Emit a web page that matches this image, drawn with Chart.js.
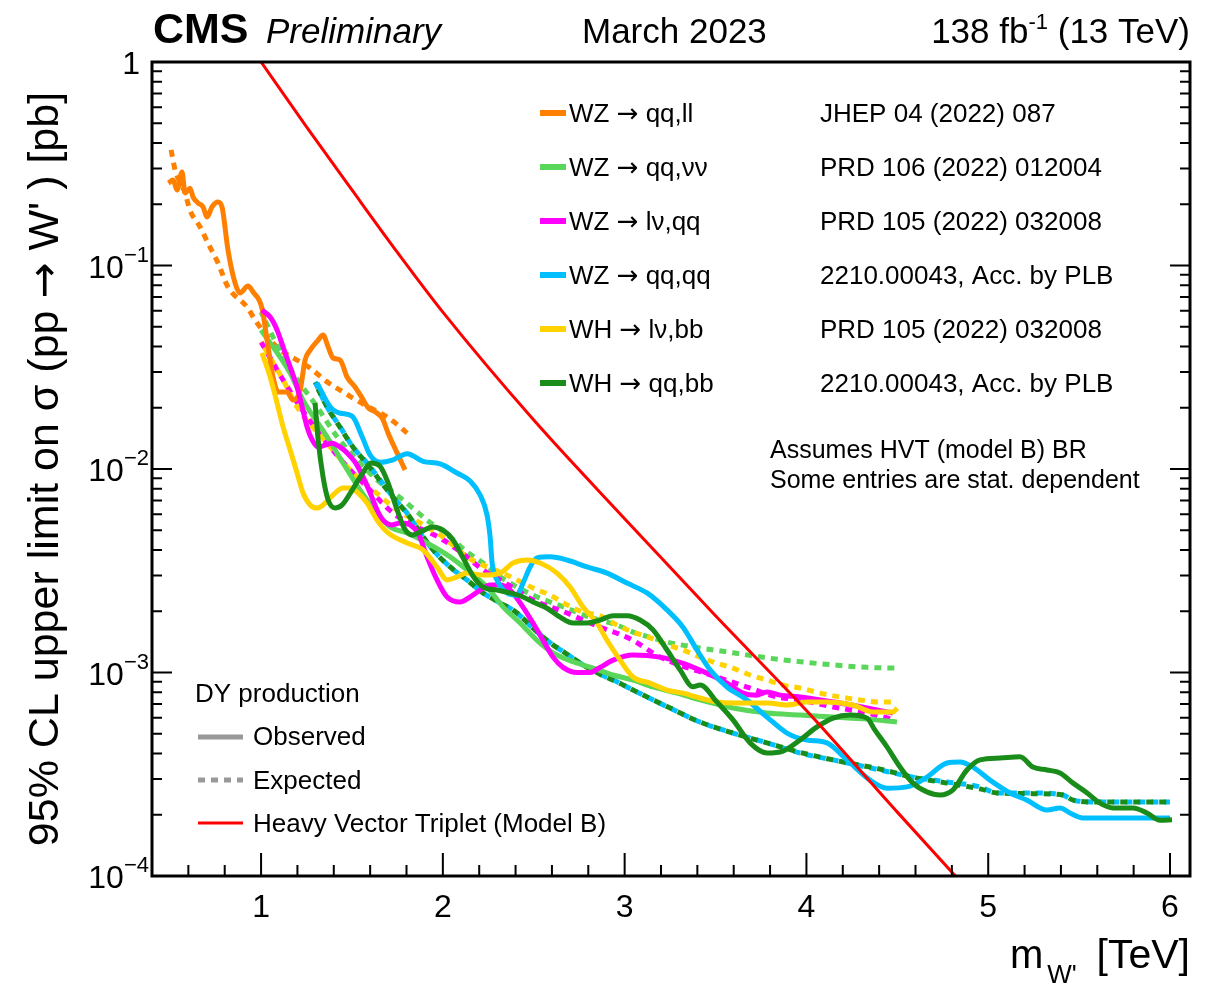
<!DOCTYPE html>
<html><head><meta charset="utf-8">
<script src="https://cdn.jsdelivr.net/npm/chart.js@4/dist/chart.umd.min.js"></script>
<style>html,body{margin:0;padding:0;background:#fff;}#wrap{width:1221px;height:983px;}</style>
</head><body><div id="wrap"><canvas id="c" width="1221" height="983"></canvas></div>
<script>
// ---------------- data (mass in TeV, limits in pb) ----------------
const hvtMass = [0.9,1.0,1.25,1.5,1.75,2.0,2.5,3.0,3.5,4.0,4.5,5.0];
const hvtXsec = [1.34,1.0,0.48,0.235,0.116,0.059,0.0174,0.0057,0.0019,0.00065,0.000206,0.0000665];

const qqllObsMass = [0.49,0.516,0.538,0.565,0.582,0.609,0.626,0.653,0.681,0.703,0.73,0.763,0.785,0.818,0.857,0.884,0.928,0.956,1.005,1.033,1.066,1.094,1.143,1.176,1.215,1.242,1.27,1.314,1.341,1.369,1.396,1.435,1.473,1.517,1.556,1.589,1.627,1.666,1.699,1.748,1.792];
const qqllObs = [0.254,0.263,0.235,0.288,0.227,0.240,0.217,0.203,0.194,0.173,0.194,0.205,0.194,0.119,0.082,0.0733,0.0793,0.0741,0.0618,0.043,0.0283,0.0239,0.0239,0.0218,0.0244,0.0343,0.0384,0.043,0.0455,0.0398,0.0351,0.0343,0.0283,0.0253,0.0223,0.02,0.0191,0.0178,0.015,0.012,0.0099];
const qqllExpMass = [0.505,0.527,0.582,0.609,0.664,0.719,0.763,0.818,0.923,0.967,1.05,1.121,1.198,1.27,1.363,1.435,1.506,1.6,1.693,1.765,1.803];
const qqllExp = [0.37,0.295,0.227,0.187,0.155,0.123,0.103,0.0784,0.0625,0.054,0.043,0.0376,0.0343,0.0313,0.0268,0.0244,0.0223,0.02,0.018,0.0161,0.015];

const qqnnObsMass = [1.0,1.16,1.231,1.363,1.451,1.545,1.638,1.71,1.803,1.913,2.04,2.133,2.243,2.331,2.425,2.518,2.606,2.716,2.826,2.936,3.046,3.156,3.288,3.415,3.596,3.783,3.965,4.146,4.333,4.498];
const qqnnObs = [0.0482,0.0296,0.0218,0.0144,0.0107,0.00788,0.00608,0.00519,0.00485,0.00433,0.0037,0.00319,0.00263,0.0021,0.00175,0.00144,0.00125,0.00113,0.00105,0.000972,0.000918,0.000849,0.000792,0.000733,0.000669,0.000632,0.000618,0.000604,0.00059,0.000571];
const qqnnExpMass = [1.0,1.066,1.176,1.308,1.418,1.528,1.638,1.781,1.913,2.04,2.133,2.221,2.315,2.408,2.496,2.59,2.683,2.771,2.865,2.958,3.046,3.14,3.233,3.415,3.596,3.783,3.965,4.146,4.333,4.498];
const qqnnExp = [0.0591,0.0445,0.0296,0.0202,0.0144,0.0111,0.00883,0.00704,0.00561,0.00463,0.00391,0.00345,0.00295,0.00263,0.0024,0.00222,0.00207,0.00192,0.00181,0.00171,0.00158,0.00149,0.00141,0.00132,0.00125,0.00118,0.00113,0.00109,0.00106,0.00105];

const lvqqObsMass = [1.005,1.05,1.088,1.121,1.16,1.198,1.226,1.253,1.281,1.314,1.352,1.391,1.435,1.473,1.517,1.561,1.6,1.638,1.671,1.721,1.765,1.82,1.864,1.913,1.968,2.023,2.095,2.15,2.205,2.26,2.315,2.37,2.425,2.496,2.551,2.606,2.661,2.738,2.81,2.865,2.936,3.046,3.195,3.321,3.453,3.563,3.651,3.728,3.783,3.855,3.965,4.075,4.185,4.333,4.476];
const lvqqObs = [0.0604,0.0558,0.0482,0.0398,0.0317,0.0253,0.0202,0.0161,0.0139,0.0128,0.0131,0.0134,0.0128,0.012,0.0108,0.00914,0.00762,0.00629,0.00561,0.00531,0.00543,0.00531,0.00485,0.0037,0.00285,0.00235,0.00222,0.00235,0.00254,0.00269,0.00269,0.00254,0.0022,0.00175,0.00144,0.00119,0.00106,0.001,0.001,0.00106,0.00115,0.00122,0.00119,0.00111,0.000993,0.000887,0.000792,0.000774,0.000802,0.000774,0.000758,0.000733,0.000708,0.000669,0.000632];
const lvqqExpMass = [1.0,1.121,1.215,1.363,1.49,1.583,1.726,1.858,1.985,2.133,2.221,2.315,2.408,2.496,2.59,2.683,2.771,2.865,2.958,3.046,3.195,3.508,3.69,3.838,3.965,4.146,4.333,4.487];
const lvqqExp = [0.0421,0.0274,0.0202,0.0134,0.00989,0.00816,0.00608,0.00519,0.00458,0.0037,0.00319,0.00285,0.00254,0.00227,0.0021,0.00196,0.00181,0.00167,0.00156,0.00144,0.00119,0.00095,0.000839,0.000758,0.000733,0.000677,0.000632,0.000585];

const qqqqObsMass = [1.308,1.38,1.435,1.501,1.556,1.6,1.655,1.726,1.803,1.891,1.985,2.078,2.15,2.205,2.243,2.26,2.271,2.298,2.353,2.408,2.441,2.48,2.518,2.59,2.683,2.793,2.903,3.013,3.123,3.233,3.321,3.398,3.47,3.563,3.673,3.783,3.893,4.003,4.113,4.223,4.35,4.443,4.553,4.663,4.773,4.845,4.916,5.01,5.12,5.213,5.323,5.395,5.45,5.521,5.78,6.0];
const qqqqObs = [0.0265,0.0202,0.0188,0.0182,0.0144,0.0117,0.0108,0.0111,0.0119,0.0109,0.0106,0.00956,0.00873,0.00745,0.00594,0.00463,0.00345,0.00285,0.00246,0.0024,0.00275,0.0033,0.00366,0.0037,0.00357,0.0033,0.00308,0.00275,0.00246,0.00203,0.00167,0.00129,0.00103,0.000849,0.000733,0.000604,0.000504,0.000466,0.000451,0.000372,0.000296,0.00027,0.000274,0.000306,0.000359,0.000363,0.000343,0.000296,0.000256,0.000236,0.000211,0.000216,0.000204,0.000193,0.000193,0.000193];
const qqqqExpMass = [1.297,1.363,1.435,1.506,1.583,1.655,1.726,1.803,1.875,1.946,2.04,2.133,2.221,2.315,2.408,2.496,2.59,2.683,2.771,2.865,2.958,3.046,3.233,3.415,3.596,3.783,3.965,4.146,4.405,4.586,4.773,4.955,5.048,5.23,5.411,5.467,5.598,6.0];
const qqqqExp = [0.0268,0.0202,0.0161,0.0128,0.0107,0.00883,0.00728,0.00608,0.00485,0.004,0.0033,0.00285,0.00246,0.0022,0.00196,0.00165,0.0014,0.00123,0.00109,0.00098,0.0009,0.00082,0.00068,0.000571,0.000504,0.000451,0.000402,0.000372,0.000332,0.000306,0.00029,0.000274,0.000256,0.000256,0.00025,0.000236,0.000231,0.000231];

const lvbbObsMass = [1.005,1.05,1.088,1.121,1.16,1.198,1.231,1.27,1.308,1.341,1.396,1.451,1.49,1.534,1.583,1.638,1.699,1.803,1.891,1.968,2.023,2.078,2.133,2.221,2.315,2.386,2.463,2.535,2.628,2.7,2.771,2.848,2.903,2.975,3.046,3.14,3.233,3.321,3.415,3.508,3.596,3.783,3.893,4.003,4.113,4.256,4.366,4.476,4.5];
const lvbbObs = [0.0372,0.0283,0.0211,0.0161,0.0124,0.00956,0.00762,0.00666,0.00643,0.00666,0.00745,0.00807,0.00807,0.00762,0.00681,0.00561,0.00485,0.00433,0.004,0.0033,0.00285,0.00295,0.00308,0.00301,0.00308,0.00345,0.00357,0.00345,0.00308,0.00263,0.0021,0.00175,0.00144,0.00115,0.00095,0.000887,0.00082,0.000792,0.000749,0.000716,0.000708,0.000708,0.000692,0.000716,0.000716,0.000692,0.00064,0.00064,0.000669];
const lvbbExpMass = [1.0,1.121,1.198,1.363,1.506,1.616,1.748,1.875,2.001,2.133,2.221,2.315,2.408,2.496,2.59,2.683,2.771,2.865,2.958,3.046,3.14,3.233,3.321,3.415,3.508,3.596,3.69,3.783,3.871,3.965,4.075,4.185,4.295,4.405,4.498];
const lvbbExp = [0.0421,0.0274,0.0202,0.0134,0.00956,0.00788,0.00629,0.00543,0.00463,0.0037,0.00337,0.00312,0.00285,0.0026,0.0024,0.00215,0.00198,0.0019,0.00171,0.00158,0.00148,0.00137,0.00129,0.00119,0.00111,0.00105,0.000972,0.000918,0.000867,0.000839,0.000792,0.000758,0.000733,0.000716,0.000716];

const qqbbObsMass = [1.297,1.314,1.341,1.369,1.407,1.446,1.501,1.556,1.605,1.655,1.699,1.743,1.787,1.831,1.875,1.946,2.001,2.056,2.111,2.166,2.221,2.298,2.37,2.441,2.496,2.573,2.645,2.716,2.793,2.865,2.936,3.013,3.085,3.156,3.233,3.305,3.376,3.415,3.508,3.596,3.69,3.783,3.871,3.965,4.058,4.146,4.24,4.333,4.377,4.443,4.515,4.586,4.663,4.735,4.806,4.883,4.955,5.065,5.175,5.246,5.323,5.395,5.467,5.544,5.615,5.687,5.797,5.873,5.945,6.011];
const qqbbObs = [0.0211,0.0139,0.00914,0.00704,0.00643,0.00666,0.00788,0.00945,0.0107,0.0103,0.00853,0.0065,0.00513,0.00474,0.0049,0.00519,0.00501,0.00448,0.00366,0.00298,0.00263,0.00254,0.00246,0.00235,0.00222,0.00207,0.00187,0.00175,0.00175,0.00181,0.0019,0.0019,0.00181,0.00162,0.00129,0.00103,0.00085,0.000868,0.000716,0.000585,0.000451,0.000402,0.000411,0.000466,0.00054,0.000597,0.000618,0.000597,0.000521,0.000431,0.000343,0.000286,0.000259,0.00025,0.000265,0.000332,0.000372,0.00038,0.000385,0.000343,0.000332,0.000321,0.000286,0.000256,0.000228,0.000216,0.000216,0.000204,0.000188,0.000189];
const qqbbExpMass = [1.297,1.363,1.435,1.506,1.583,1.655,1.726,1.803,1.875,1.946,2.04,2.133,2.221,2.315,2.408,2.496,2.59,2.683,2.771,2.865,2.958,3.046,3.233,3.415,3.596,3.783,3.965,4.146,4.405,4.586,4.773,4.955,5.048,5.23,5.411,5.467,5.598,6.0];
const qqbbExp = [0.0265,0.0202,0.016,0.0128,0.0106,0.00875,0.00725,0.00605,0.00488,0.004,0.0033,0.00285,0.00246,0.0022,0.00196,0.00165,0.0014,0.00123,0.00109,0.00098,0.0009,0.00082,0.00068,0.000571,0.000504,0.000451,0.000405,0.000372,0.000335,0.000306,0.000286,0.000268,0.000256,0.000254,0.00025,0.000236,0.000231,0.000231];

const xMajorTicks = [1,2,3,4,5,6];
const yDecadeExps = [0,-1,-2,-3,-4];

const channelLabels = ['WZ \u2192 qq,ll','WZ \u2192 qq,\u03BD\u03BD','WZ \u2192 l\u03BD,qq','WZ \u2192 qq,qq','WH \u2192 l\u03BD,bb','WH \u2192 qq,bb'];
const channelRefs = ['JHEP 04 (2022) 087','PRD 106 (2022) 012004','PRD 105 (2022) 032008','2210.00043, Acc. by PLB','PRD 105 (2022) 032008','2210.00043, Acc. by PLB'];
const channelColors = ['#ff8000','#5ad65a','#ff00ff','#00bfff','#ffd200','#198c19'];

// ---------------- helpers ----------------
const FONT = '"Liberation Sans", Arial, Helvetica, sans-serif';
const ARROWFONT = '"DejaVu Sans", sans-serif';
const pts = (xs, ys) => xs.map((x, i) => ({x: x, y: ys[i]}));
const DASH = [7, 6];
function obs(label, xs, ys, color, order) {
  return {label, data: pts(xs, ys), borderColor: color, borderWidth: 5, order, clip: 0};
}
function exp(label, xs, ys, color, order, offset) {
  return {label, data: pts(xs, ys), borderColor: color, borderWidth: 5, borderDash: DASH, borderDashOffset: offset || 0, borderCapStyle: 'butt', order, clip: 0};
}

const datasets = [
  {label: 'HVT model B', data: pts(hvtMass, hvtXsec), borderColor: '#ff0000', borderWidth: 3, order: 0, clip: 0},
  obs('WZ qq,ll obs', qqllObsMass, qqllObs, channelColors[0], 5),
  exp('WZ qq,ll exp', qqllExpMass, qqllExp, channelColors[0], 20),
  obs('WH qq,bb obs', qqbbObsMass, qqbbObs, channelColors[5], 1),
  exp('WH qq,bb exp', qqbbExpMass, qqbbExp, channelColors[5], 10, 6.5),
  obs('WZ qq,qq obs', qqqqObsMass, qqqqObs, channelColors[3], 3),
  exp('WZ qq,qq exp', qqqqExpMass, qqqqExp, channelColors[3], 11, 0),
  obs('WH lv,bb obs', lvbbObsMass, lvbbObs, channelColors[4], 2),
  exp('WH lv,bb exp', lvbbExpMass, lvbbExp, channelColors[4], 12, 6.5),
  obs('WZ lv,qq obs', lvqqObsMass, lvqqObs, channelColors[2], 4),
  exp('WZ lv,qq exp', lvqqExpMass, lvqqExp, channelColors[2], 13, 0),
  obs('WZ qq,vv obs', qqnnObsMass, qqnnObs, channelColors[1], 6),
  exp('WZ qq,vv exp', qqnnExpMass, qqnnExp, channelColors[1], 14, 3),
];

function setFont(ctx, size, opts, fam) {
  opts = opts || {};
  ctx.font = (opts.style || '') + ' ' + (opts.weight || '') + ' ' + size + 'px ' + (fam || FONT);
}
function text(ctx, s, x, y, size, opts) {
  opts = opts || {};
  setFont(ctx, size, opts);
  ctx.textAlign = opts.align || 'left';
  ctx.textBaseline = 'alphabetic';
  ctx.fillStyle = opts.color || '#000';
  ctx.fillText(s, x, y);
  return ctx.measureText(s).width;
}
function measure(ctx, s, size, opts) {
  setFont(ctx, size, opts);
  return ctx.measureText(s).width;
}
// text containing an arrow: the arrow is drawn with a font whose arrow is full size
function arrowText(ctx, s, x, y, size, align) {
  const parts = s.split('\u2192');
  const widths = [];
  let total = 0;
  parts.forEach((p, i) => {
    setFont(ctx, size); const w = ctx.measureText(p).width; widths.push(w); total += w;
    if (i < parts.length - 1) { setFont(ctx, size, {}, ARROWFONT); const wa = ctx.measureText('\u2192').width; widths.push(wa); total += wa; }
  });
  let cx = align === 'center' ? x - total / 2 : x;
  ctx.textAlign = 'left'; ctx.textBaseline = 'alphabetic'; ctx.fillStyle = '#000';
  let k = 0;
  parts.forEach((p, i) => {
    setFont(ctx, size); ctx.fillText(p, cx, y); cx += widths[k++];
    if (i < parts.length - 1) { setFont(ctx, size, {}, ARROWFONT); ctx.fillText('\u2192', cx, y); cx += widths[k++]; }
  });
  return total;
}

const decor = {
  id: 'decor',
  beforeDraw(chart) {
    const c = chart.ctx; c.save(); c.fillStyle = '#fff'; c.fillRect(0, 0, chart.width, chart.height); c.restore();
  },
  afterDraw(chart) {
    const c = chart.ctx, a = chart.chartArea, xs = chart.scales.x, ys = chart.scales.y;
    c.save();
    c.strokeStyle = '#000'; c.lineCap = 'butt';
    // ticks
    c.lineWidth = 2;
    c.beginPath();
    for (let i = 2; i <= 30; i++) {
      const m = i / 5; const px = xs.getPixelForValue(m);
      const major = (i % 5 === 0);
      const L = major ? 23 : 11;
      c.moveTo(px, a.bottom); c.lineTo(px, a.bottom - L);
    }
    yDecadeExps.forEach(e => {
      for (let k = 1; k <= 9; k++) {
        if (e === 0 && k > 1) continue;
        const v = k * Math.pow(10, e);
        const py = ys.getPixelForValue(v);
        const L = k === 1 ? 20 : 10;
        c.moveTo(a.left, py); c.lineTo(a.left + L, py);
        c.moveTo(a.right, py); c.lineTo(a.right - L, py);
      }
    });
    c.stroke();
    // frame
    c.lineWidth = 3;
    c.strokeRect(a.left, a.top, a.right - a.left, a.bottom - a.top);

    // x tick labels
    xMajorTicks.forEach(t => text(c, String(t), xs.getPixelForValue(t), 917, 32, {align: 'center'}));
    // y tick labels
    yDecadeExps.forEach(e => {
      const py = ys.getPixelForValue(Math.pow(10, e));
      if (e === 0) { text(c, '1', 140, py + 12, 32, {align: 'right'}); return; }
      const sup = '\u2212' + String(-e);
      const wb = measure(c, '10', 32), wsup = measure(c, sup, 22);
      const x0 = 149 - wb - wsup;
      text(c, '10', x0, py + 12, 32);
      text(c, sup, x0 + wb, py - 4, 22);
    });
    // axis titles
    let x = 1010;
    x += text(c, 'm', x, 968, 40);
    text(c, "W'", x + 4, 983, 26);
    text(c, '[TeV]', 1190, 968, 41, {align: 'right'});
    c.save();
    c.translate(58, 469); c.rotate(-Math.PI / 2);
    arrowText(c, "95% CL upper limit on \u03C3 (pp \u2192 W' ) [pb]", 0, 0, 43, 'center');
    c.restore();

    // header
    text(c, 'CMS', 153, 43, 43, {weight: 'bold'});
    text(c, 'Preliminary', 266, 43, 35, {style: 'italic'});
    text(c, 'March 2023', 582, 43, 35);
    const p1 = '138 fb', p2 = '-1', p3 = ' (13 TeV)';
    const w1 = measure(c, p1, 35), w2 = measure(c, p2, 22), w3 = measure(c, p3, 35);
    let hx = 1190 - w1 - w2 - w3;
    text(c, p1, hx, 43, 35); text(c, p2, hx + w1, 29, 22); text(c, p3, hx + w1 + w2, 43, 35);

    // channel legend
    for (let i = 0; i < 6; i++) {
      const cy = 113 + 54 * i;
      c.strokeStyle = channelColors[i]; c.lineWidth = 6; c.setLineDash([]);
      c.beginPath(); c.moveTo(540, cy); c.lineTo(566, cy); c.stroke();
      arrowText(c, channelLabels[i], 569, cy + 9, 26);
      text(c, channelRefs[i], 820, cy + 9, 26);
    }
    text(c, 'Assumes HVT (model B) BR', 770, 458, 25);
    text(c, 'Some entries are stat. dependent', 770, 488, 25);

    // style legend
    text(c, 'DY production', 195, 702, 26);
    c.strokeStyle = '#999'; c.lineWidth = 5;
    c.beginPath(); c.moveTo(198, 737); c.lineTo(243, 737); c.stroke();
    text(c, 'Observed', 253, 745, 26);
    c.setLineDash([7, 6]);
    c.beginPath(); c.moveTo(198, 780); c.lineTo(243, 780); c.stroke();
    c.setLineDash([]);
    text(c, 'Expected', 253, 789, 26);
    c.strokeStyle = '#ff0000'; c.lineWidth = 3;
    c.beginPath(); c.moveTo(198, 823); c.lineTo(243, 823); c.stroke();
    text(c, 'Heavy Vector Triplet (Model B)', 253, 832, 26);
    c.restore();
  }
};

new Chart(document.getElementById('c'), {
  type: 'line',
  data: {datasets},
  options: {
    responsive: false, animation: false, devicePixelRatio: 1,
    layout: {padding: {left: 152, top: 62, right: 31, bottom: 107}},
    elements: {point: {radius: 0}, line: {cubicInterpolationMode: 'monotone', fill: false}},
    scales: {
      x: {type: 'linear', min: 0.4, max: 6.11, display: false},
      y: {type: 'logarithmic', min: 1e-4, max: 1, display: false}
    },
    plugins: {legend: {display: false}, tooltip: {enabled: false}}
  },
  plugins: [decor]
});
</script></body></html>
